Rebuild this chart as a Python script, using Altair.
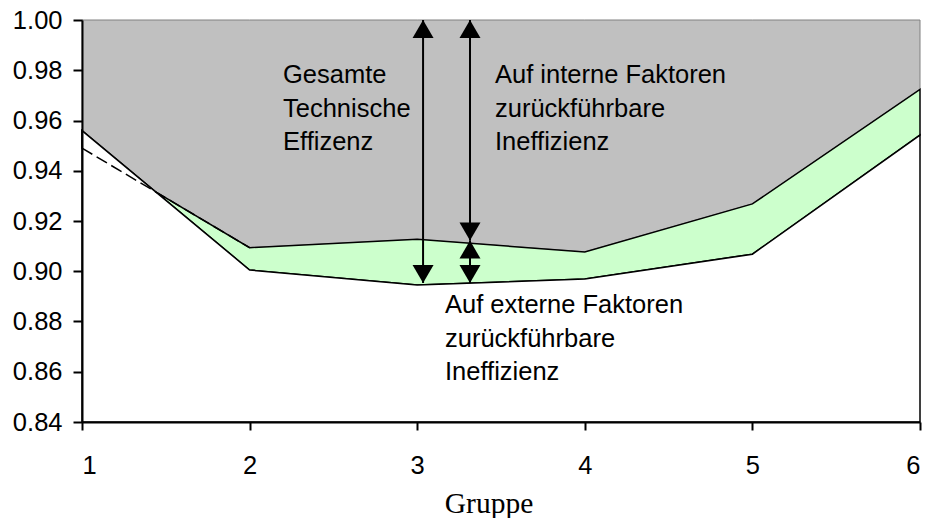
import altair as alt
import pandas as pd

# ---- data ----
gruppe = [1, 2, 3, 4, 5, 6]
# upper boundary (gesamte technische Effizienz bei interner Betrachtung)
eff_upper = [0.949, 0.9094, 0.9127, 0.9077, 0.9268, 0.9724]
# lower boundary
eff_lower = [0.956, 0.9005, 0.8945, 0.8969, 0.9068, 0.9542]

y_ticks = [0.84, 0.86, 0.88, 0.90, 0.92, 0.94, 0.96, 0.98, 1.00]
x_ticks = [1, 2, 3, 4, 5, 6]

# arrows (x position, low end, high end)
arrow_x = [3.035, 3.315, 3.315]
arrow_lo = [0.8953, 0.9122, 0.8953]
arrow_hi = [1.00, 1.00, 0.9122]

label_total = ["Gesamte", "Technische", "Effizenz"]
label_intern = ["Auf interne Faktoren", "zurückführbare", "Ineffizienz"]
label_extern = ["Auf externe Faktoren", "zurückführbare", "Ineffizienz"]
x_title = "Gruppe"

# ---- tables ----
df = pd.DataFrame({"x": gruppe, "A": eff_upper, "B": eff_lower})
arrows = pd.DataFrame({"x": arrow_x, "lo": arrow_lo, "hi": arrow_hi})
one = pd.DataFrame({"k": [0]})

FONT = "Liberation Sans"
xscale = alt.Scale(domain=[1, 6], nice=False, zero=False)
yscale = alt.Scale(domain=[0.84, 1.0], nice=False, zero=False)

xaxis = alt.Axis(values=x_ticks, format="d", title=None, grid=False,
                 domainColor="black", domainWidth=2, tickColor="black",
                 tickWidth=2, tickSize=8, labelPadding=23, labelFont=FONT,
                 labelFontSize=25.5, labelColor="black", zindex=1)
yaxis = alt.Axis(values=y_ticks, format=".2f", title=None, grid=False,
                 domainColor="black", domainWidth=2, tickColor="black",
                 tickWidth=2, tickSize=9, labelPadding=11, labelFont=FONT,
                 labelFontSize=25.5, labelColor="black", zindex=1)

X = alt.X("x:Q", scale=xscale, axis=xaxis)

gray = alt.Chart(df).mark_area(fill="#c0c0c0", stroke="#808080", strokeWidth=1).encode(
    x=X, y=alt.Y("A:Q", scale=yscale, axis=yaxis), y2=alt.datum(1.0))
green = alt.Chart(df).mark_area(fill="#ccffcc", stroke="black", strokeWidth=1.5).encode(
    x="x:Q", y="B:Q", y2="A:Q")
white = alt.Chart(df).mark_area(fill="white", stroke="black", strokeWidth=1.5).encode(
    x="x:Q", y="B:Q", y2=alt.datum(0.84))
dashed = alt.Chart(df[df.x <= 2]).mark_line(color="black", strokeWidth=1.5,
                                             strokeDash=[12, 5]).encode(x="x:Q", y="A:Q")

shafts = alt.Chart(arrows).mark_rule(color="black", strokeWidth=2).encode(
    x="x:Q", y="lo:Q", y2="hi:Q")
UP = "M0,0L-0.583,1L0.583,1Z"
DOWN = "M0,0L-0.583,-1L0.583,-1Z"
heads_up = alt.Chart(arrows).mark_point(shape=UP, size=1296, filled=True,
                                        color="black", opacity=1, strokeWidth=0).encode(
    x="x:Q", y="hi:Q")
heads_down = alt.Chart(arrows).mark_point(shape=DOWN, size=1296, filled=True,
                                          color="black", opacity=1, strokeWidth=0).encode(
    x="x:Q", y="lo:Q")

def txt(lines, px, py):
    return alt.Chart(one).mark_text(text=lines, align="left", baseline="alphabetic",
                                    font=FONT, fontSize=25.5, lineHeight=33.5,
                                    color="black").encode(x=alt.value(px), y=alt.value(py))

t1 = txt(label_total, 201, 63)
t2 = txt(label_intern, 413, 63)
t3 = txt(label_extern, 363, 293)
t4 = alt.Chart(one).mark_text(text=x_title, align="center", baseline="alphabetic",
                              font="Liberation Serif", fontSize=29.5,
                              color="black").encode(x=alt.value(407), y=alt.value(493))

chart = alt.layer(gray, green, white, dashed, shafts, heads_up, heads_down,
                  t1, t2, t3, t4).properties(
    width=838, height=402,
    autosize=alt.AutoSizeParams(type="none"),
    padding={"left": 74, "top": 12, "right": 2, "bottom": 102},
    background="white",
).configure_view(strokeWidth=0)

chart.save("out.html", embed_options={"renderer": "svg", "actions": False})
